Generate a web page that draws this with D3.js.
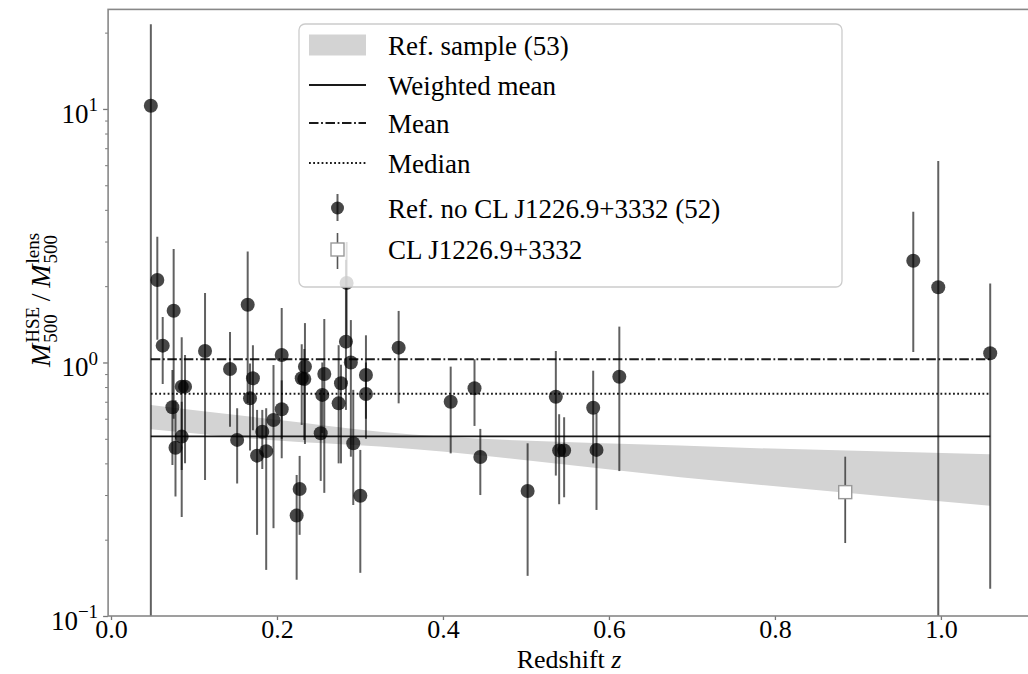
<!DOCTYPE html>
<html>
<head>
<meta charset="utf-8">
<script src="https://cdn.jsdelivr.net/npm/d3@7"></script>
<style>
  html, body { margin: 0; padding: 0; background: #fff; }
  svg { display: block; font-family: "Liberation Serif", "Times New Roman", serif; }
</style>
</head>
<body>
<svg id="chart" width="1028" height="674"></svg>
<script>
// Reference sample (without CL J1226.9+3332): redshift, M500 HSE / lensing ratio and 1-sigma bounds
const redshift = [0.048, 0.0558, 0.0623, 0.0755, 0.0740, 0.0777, 0.0852, 0.0892, 0.0852, 0.1133,
  0.1434, 0.1520, 0.1647, 0.1710, 0.1675, 0.1823, 0.1760, 0.1870, 0.1958, 0.2057,
  0.2057, 0.2273, 0.2237, 0.2298, 0.2329, 0.2337, 0.2527, 0.2546, 0.2570, 0.2743,
  0.2771, 0.2831, 0.2839, 0.2890, 0.2919, 0.3004, 0.3072, 0.3072, 0.3466, 0.4093,
  0.4380, 0.4450, 0.5020, 0.5360, 0.5400, 0.5460, 0.5810, 0.5850, 0.6125, 0.9667,
  0.9968, 1.0594];
const ratio = [10.3, 2.115, 1.165, 1.60, 0.666, 0.461, 0.803, 0.803, 0.510, 1.11,
  0.943, 0.495, 1.69, 0.866, 0.722, 0.533, 0.429, 0.447, 0.593, 1.07,
  0.654, 0.317, 0.249, 0.866, 0.861, 0.963, 0.526, 0.745, 0.901, 0.690,
  0.828, 1.208, 2.06, 1.00, 0.480, 0.298, 0.893, 0.751, 1.144, 0.700,
  0.791, 0.424, 0.311, 0.733, 0.450, 0.450, 0.663, 0.452, 0.879, 2.52,
  1.98, 1.087];
const ratioLow = [0.05, 1.23, 0.823, 0.60, 0.394, 0.296, 0.377, 0.40, 0.246, 0.344,
  0.558, 0.333, 0.692, 0.54, 0.45, 0.38, 0.209, 0.152, 0.222, 0.419,
  0.50, 0.209, 0.139, 0.567, 0.495, 0.477, 0.341, 0.527, 0.306, 0.40,
  0.40, 0.65, 1.28, 0.425, 0.274, 0.148, 0.60, 0.50, 0.690, 0.438,
  0.562, 0.300, 0.144, 0.358, 0.276, 0.294, 0.400, 0.262, 0.373, 1.10,
  0.05, 0.128];
const ratioHigh = [21.6, 3.13, 1.51, 2.80, 0.934, 0.71, 1.257, 1.07, 0.70, 1.88,
  1.32, 0.66, 2.74, 1.17, 0.99, 0.65, 0.65, 0.66, 0.977, 1.64,
  0.85, 0.428, 0.36, 1.18, 1.13, 1.43, 0.78, 1.0, 1.484, 1.17,
  0.98, 2.54, 2.99, 1.47, 0.78, 0.452, 1.28, 1.0, 1.597, 0.963,
  1.03, 0.547, 0.48, 1.11, 0.625, 0.608, 0.928, 0.631, 1.385, 3.93,
  6.23, 2.05];

// CL J1226.9+3332
const clRedshift = [0.8847];
const clRatio = [0.308];
const clLow = [0.194];
const clHigh = [0.425];

// Envelope of the full reference sample (53 clusters)
const bandRedshift = [0.048, 0.2, 0.324, 0.686, 1.059];
const bandUpper = [0.680, 0.594, 0.533, 0.470, 0.435];
const bandLower = [0.545, 0.492, 0.466, 0.353, 0.272];

// Sample statistics
const weightedMean = 0.511;
const meanRatio = 1.03;
const medianRatio = 0.753;

// Axis ticks
const xTicks = [0.0, 0.2, 0.4, 0.6, 0.8, 1.0];
const yTicks = [0.1, 1, 10];
const yTickExponents = ["\u22121", "0", "1"];
const yMinorTicks = [0.2, 0.3, 0.4, 0.5, 0.6, 0.7, 0.8, 0.9, 2, 3, 4, 5, 6, 7, 8, 9, 20];

const legendLabels = ["Ref. sample (53)", "Weighted mean", "Mean", "Median",
  "Ref. no CL J1226.9+3332 (52)", "CL J1226.9+3332"];

const svg = d3.select("#chart");
const FONT = "Liberation Serif, Times New Roman, serif";

const x = d3.scaleLinear().domain([-0.0035, 1.11]).range([108.1, 1032.2]);
const y = d3.scaleLog().domain([0.1, 24.7]).range([616, 9.4]);

const [xl, xr] = x.range();
const [yb, yt] = y.range();

svg.append("defs").append("clipPath").attr("id", "plot-clip")
  .append("rect").attr("x", xl).attr("y", yt).attr("width", xr - xl).attr("height", yb - yt);

const plot = svg.append("g").attr("clip-path", "url(#plot-clip)");

// Shaded envelope
const band = bandRedshift.map((z, i) => ({ z, lo: bandLower[i], hi: bandUpper[i] }));
plot.append("path")
  .datum(band)
  .attr("fill", "#d3d3d3")
  .attr("d", d3.area().x(d => x(d.z)).y0(d => y(d.lo)).y1(d => y(d.hi)).curve(d3.curveMonotoneX));

// Summary lines across the redshift range of the sample
const [zMin, zMax] = d3.extent(redshift);
const stats = [
  { v: weightedMean, dash: null },
  { v: meanRatio, dash: "9.5,2.6,1.8,2.6" },
  { v: medianRatio, dash: "1.8,2.4" }
];
plot.selectAll("line.stat").data(stats).join("line")
  .attr("class", "stat")
  .attr("x1", x(zMin)).attr("x2", x(zMax))
  .attr("y1", d => y(d.v)).attr("y2", d => y(d.v))
  .attr("stroke", "#1a1a1a").attr("stroke-width", 1.9)
  .attr("stroke-dasharray", d => d.dash);

// Reference sample error bars and markers
const pts = redshift.map((z, i) => ({ z, v: ratio[i], lo: ratioLow[i], hi: ratioHigh[i] }));
const pg = plot.append("g");
pg.selectAll("line.err").data(pts).join("line")
  .attr("class", "err")
  .attr("x1", d => x(d.z)).attr("x2", d => x(d.z))
  .attr("y1", d => y(d.lo)).attr("y2", d => y(d.hi))
  .attr("stroke", "#000").attr("stroke-opacity", 0.62).attr("stroke-width", 2);
pg.selectAll("circle").data(pts).join("circle")
  .attr("cx", d => x(d.z)).attr("cy", d => y(d.v)).attr("r", 7)
  .attr("fill", "#000").attr("fill-opacity", 0.72);

// CL J1226.9+3332
const cl = clRedshift.map((z, i) => ({ z, v: clRatio[i], lo: clLow[i], hi: clHigh[i] }));
plot.selectAll("line.clerr").data(cl).join("line")
  .attr("class", "clerr")
  .attr("x1", d => x(d.z)).attr("x2", d => x(d.z))
  .attr("y1", d => y(d.lo)).attr("y2", d => y(d.hi))
  .attr("stroke", "#555").attr("stroke-width", 1.8);
plot.selectAll("rect.clpt").data(cl).join("rect")
  .attr("class", "clpt")
  .attr("x", d => x(d.z) - 6.5).attr("y", d => y(d.v) - 6.5)
  .attr("width", 13).attr("height", 13)
  .attr("fill", "#fff").attr("stroke", "#999").attr("stroke-width", 1.4);

// Axes
const tickColor = "#777";
const gx = svg.append("g").attr("transform", `translate(0,${yb})`)
  .call(d3.axisBottom(x).tickValues(xTicks).tickFormat(d3.format(".1f"))
    .tickSize(4).tickPadding(0).tickSizeOuter(0));
gx.attr("font-size", 26).attr("font-family", FONT);
gx.select(".domain").remove();
gx.selectAll(".tick line").attr("stroke", tickColor).attr("stroke-width", 1.3);
gx.selectAll(".tick text").attr("fill", "#000");

const gyMinor = svg.append("g").attr("transform", `translate(${xl},0)`)
  .call(d3.axisLeft(y).tickValues(yMinorTicks).tickFormat("").tickSize(3).tickSizeOuter(0));
gyMinor.select(".domain").remove();
gyMinor.selectAll(".tick line").attr("stroke", tickColor).attr("stroke-width", 1);

const gy = svg.append("g").attr("transform", `translate(${xl},0)`)
  .call(d3.axisLeft(y).tickValues(yTicks).tickFormat(() => "10")
    .tickSize(5).tickPadding(5).tickSizeOuter(0));
gy.attr("font-size", 27).attr("font-family", FONT);
gy.select(".domain").remove();
gy.selectAll(".tick line").attr("stroke", tickColor).attr("stroke-width", 1.3);
gy.selectAll(".tick text").attr("fill", "#000").attr("dy", "0.5em")
  .append("tspan").attr("font-size", 19).attr("dy", "-0.62em")
  .text((d, i) => yTickExponents[i]);

// Frame
svg.append("rect")
  .attr("x", xl).attr("y", yt).attr("width", xr - xl).attr("height", yb - yt)
  .attr("fill", "none").attr("stroke", "#888").attr("stroke-width", 1.6);

// Axis titles
svg.append("text")
  .attr("x", (xl + 1030) / 2).attr("y", 668)
  .attr("text-anchor", "middle").attr("font-size", 26).attr("font-family", FONT)
  .html('Redshift <tspan font-style="italic">z</tspan>');

const yl = svg.append("g").attr("transform", "translate(50,300) rotate(-90)")
  .attr("font-family", FONT);
const pieces = [
  { t: "M", italic: true, size: 28 },
  { sup: "HSE", sub: "500" },
  { t: "\u2009/\u2009", size: 28 },
  { t: "M", italic: true, size: 28 },
  { sup: "lens", sub: "500" }
];
let cursor = 0;
const ylNodes = [];
pieces.forEach(p => {
  if (p.t) {
    const n = yl.append("text").attr("x", cursor).attr("y", 0)
      .attr("font-size", p.size).attr("font-style", p.italic ? "italic" : null).text(p.t);
    cursor += n.node().getComputedTextLength() + (p.italic ? 1 : 0);
    ylNodes.push(n);
  } else {
    const a = yl.append("text").attr("x", cursor).attr("y", -11).attr("font-size", 19).text(p.sup);
    const b = yl.append("text").attr("x", cursor).attr("y", 7).attr("font-size", 19).text(p.sub);
    cursor += Math.max(a.node().getComputedTextLength(), b.node().getComputedTextLength());
    ylNodes.push(a, b);
  }
});
ylNodes.forEach(n => n.attr("x", +n.attr("x") - cursor / 2));

// Legend
const lg = svg.append("g");
lg.append("rect").attr("x", 299).attr("y", 24).attr("width", 543).attr("height", 263)
  .attr("rx", 6).attr("fill", "#fff").attr("fill-opacity", 0.8)
  .attr("stroke", "#cccccc").attr("stroke-width", 1.3);

const rowY = [45, 85, 123, 163, 208, 249];
const hx0 = 309, hx1 = 366, hxc = 337.5, tx = 388;

lg.append("rect").attr("x", hx0).attr("y", rowY[0] - 10.5).attr("width", hx1 - hx0).attr("height", 21)
  .attr("fill", "#d3d3d3");
stats.forEach((s, i) => {
  lg.append("line").attr("x1", hx0).attr("x2", hx1)
    .attr("y1", rowY[i + 1]).attr("y2", rowY[i + 1])
    .attr("stroke", "#1a1a1a").attr("stroke-width", 1.9)
    .attr("stroke-dasharray", s.dash);
});
lg.append("line").attr("x1", hxc).attr("x2", hxc).attr("y1", rowY[4] - 14).attr("y2", rowY[4] + 13)
  .attr("stroke", "#000").attr("stroke-opacity", 0.62).attr("stroke-width", 2);
lg.append("circle").attr("cx", hxc).attr("cy", rowY[4]).attr("r", 6.5)
  .attr("fill", "#000").attr("fill-opacity", 0.72);
lg.append("line").attr("x1", hxc).attr("x2", hxc).attr("y1", rowY[5] - 16).attr("y2", rowY[5] + 20)
  .attr("stroke", "#555").attr("stroke-width", 1.6);
lg.append("rect").attr("x", hxc - 6.5).attr("y", rowY[5] - 6).attr("width", 13).attr("height", 13)
  .attr("fill", "#fff").attr("stroke", "#999").attr("stroke-width", 1.4);

lg.selectAll("text.lab").data(legendLabels).join("text")
  .attr("class", "lab")
  .attr("x", tx).attr("y", (d, i) => rowY[i] + 10)
  .attr("font-size", 27).attr("font-family", FONT).attr("fill", "#000")
  .text(d => d);
</script>
</body>
</html>
